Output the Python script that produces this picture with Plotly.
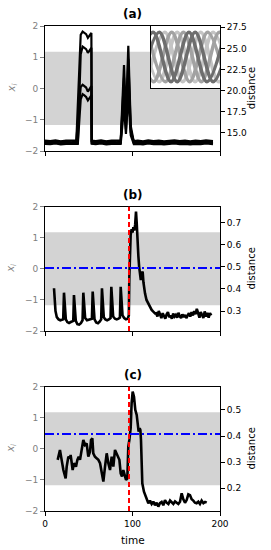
import plotly.graph_objects as go

# ---------------- data ----------------
time_ticks = [0, 100, 200]
band_time = [0, 200]
band_low = [-1.17, -1.17]
band_high = [1.18, 1.18]

# panel (a): four oscillator traces x_i
a_time = [0, 6, 12, 18, 24, 30, 35.8, 37.5, 40.8, 43, 45, 47, 49, 51, 53, 53.4,
          58, 64, 70, 76, 82, 86.5, 90.3, 92.5, 95.2, 98, 101.5,
          106, 112, 118, 124, 130, 136, 142, 148, 154, 160, 166, 172, 178, 184, 192]
a_x1 = [-1.70, -1.72, -1.69, -1.71, -1.70, -1.72, -1.70, -0.54, 1.72, 1.82, 1.78, 1.74, 1.62, 1.70, 1.78, -1.70,
        -1.72, -1.69, -1.71, -1.70, -1.72, -1.70, 0.75, -1.00, 1.37, -1.20, -1.71,
        -1.70, -1.72, -1.69, -1.71, -1.70, -1.72, -1.70, -1.69, -1.71, -1.70, -1.72, -1.70, -1.71, -1.69, -1.71]
a_x2 = [-1.74, -1.75, -1.73, -1.76, -1.74, -1.75, -1.74, -1.74, 1.10, 1.34, 1.30, 1.26, 1.14, 1.24, 1.30, -1.74,
        -1.75, -1.73, -1.76, -1.74, -1.75, -1.74, 0.35, -1.10, 0.95, -1.30, -1.75,
        -1.74, -1.76, -1.73, -1.75, -1.74, -1.76, -1.74, -1.73, -1.75, -1.74, -1.76, -1.74, -1.75, -1.73, -1.75]
a_x3 = [-1.67, -1.68, -1.66, -1.69, -1.67, -1.68, -1.67, -1.10, 0.05, 0.12, 0.08, 0.03, -0.10, 0.00, 0.08, -1.67,
        -1.68, -1.66, -1.69, -1.67, -1.68, -1.67, -0.10, -1.30, 0.40, -1.40, -1.68,
        -1.67, -1.69, -1.66, -1.68, -1.67, -1.69, -1.67, -1.66, -1.68, -1.67, -1.69, -1.67, -1.68, -1.66, -1.68]
a_x4 = [-1.77, -1.78, -1.76, -1.79, -1.77, -1.78, -1.77, -1.77, -0.35, -0.18, -0.22, -0.27, -0.38, -0.28, -0.22, -1.77,
        -1.78, -1.76, -1.79, -1.77, -1.78, -1.77, -0.60, -1.45, -0.20, -1.50, -1.78,
        -1.77, -1.79, -1.76, -1.78, -1.77, -1.79, -1.77, -1.76, -1.78, -1.77, -1.79, -1.77, -1.78, -1.76, -1.78]
a_dist_ticks = [15.0, 17.5, 20.0, 22.5, 25.0, 27.5]

# inset of (a): phase portraits (peak/trough positions)
inset_dark1_x = [-0.23, 0.03, 0.29, 0.55, 0.81, 1.07]
inset_dark1_y = [0.1, 0.9, 0.1, 0.9, 0.1, 0.9]
inset_dark2_x = [-0.14, 0.12, 0.38, 0.64, 0.90, 1.16]
inset_dark2_y = [0.1, 0.9, 0.1, 0.9, 0.1, 0.9]
inset_mid1_x = [-0.05, 0.21, 0.47, 0.73, 0.99, 1.25]
inset_mid1_y = [0.9, 0.1, 0.9, 0.1, 0.9, 0.1]
inset_mid2_x = [-0.22, 0.04, 0.30, 0.56, 0.82, 1.08]
inset_mid2_y = [0.9, 0.1, 0.9, 0.1, 0.9, 0.1]
inset_light1_x = [-0.06, 0.20, 0.46, 0.72, 0.98, 1.24]
inset_light1_y = [0.1, 0.9, 0.1, 0.9, 0.1, 0.9]
inset_light2_x = [-0.14, 0.12, 0.38, 0.64, 0.90, 1.16]
inset_light2_y = [0.9, 0.1, 0.9, 0.1, 0.9, 0.1]

# panel (b): distance
b_time = [10.3, 11.0, 12.0, 13.5, 15.5, 17.5, 19.5, 20.8, 21.7, 22.6, 23.8, 25.5, 27.5, 29.5, 31.5, 32.3,
          33.1, 34.0, 35.2, 37, 39, 41, 42.9, 43.8, 44.7, 45.9, 48, 50, 52, 53.6,
          54.5, 55.4, 56.6, 58.5, 60.5, 62.5, 64.2, 65.1, 66.0, 67.2, 69, 71, 73, 74.9,
          75.8, 76.7, 77.9, 80, 82, 84, 85.6, 86.5, 87.4, 88.6, 90.5, 92.5, 94.5, 95.8,
          96.4, 97.1, 97.9, 99.0, 100.0, 101.0, 102.0, 103.0, 104.0, 104.8, 105.5, 106.7, 107.6,
          108.6, 109.5, 110.5, 111.6, 112.5, 113.5, 114.3, 116, 118.1, 120, 121.9, 123.5, 125.7,
          127, 128.5, 130, 131.5, 133, 134.5, 136, 137.5, 139, 140.5, 142, 143.5, 145, 146.5,
          148, 149.5, 151, 152.5, 154, 155.5, 157, 158.5, 160, 161.5, 163, 164.5, 166, 167.5,
          169, 170.5, 172, 173.5, 175, 176.5, 178, 179.5, 181, 182.5, 184, 185.5, 187, 188.5, 190]
b_dist = [0.403, 0.36, 0.30, 0.272, 0.262, 0.258, 0.262, 0.262, 0.383, 0.30, 0.262, 0.250, 0.246, 0.250, 0.252, 0.255,
          0.372, 0.29, 0.255, 0.240, 0.238, 0.245, 0.258, 0.383, 0.30, 0.268, 0.258, 0.260, 0.262, 0.265,
          0.388, 0.30, 0.262, 0.248, 0.245, 0.252, 0.262, 0.403, 0.31, 0.272, 0.262, 0.258, 0.262, 0.268,
          0.410, 0.32, 0.275, 0.265, 0.262, 0.265, 0.27, 0.410, 0.33, 0.28, 0.268, 0.262, 0.265, 0.28,
          0.455, 0.60, 0.644, 0.670, 0.655, 0.680, 0.665, 0.690, 0.750, 0.700, 0.62, 0.55, 0.50,
          0.455, 0.44, 0.47, 0.478, 0.43, 0.39, 0.38, 0.35, 0.335, 0.315, 0.305, 0.298, 0.289,
          0.29, 0.275, 0.30, 0.28, 0.268, 0.29, 0.278, 0.265, 0.285, 0.295, 0.272, 0.28, 0.265, 0.288,
          0.275, 0.282, 0.27, 0.292, 0.276, 0.268, 0.285, 0.272, 0.282, 0.268, 0.28, 0.29, 0.275, 0.295,
          0.28, 0.30, 0.285, 0.31, 0.29, 0.27, 0.295, 0.28, 0.268, 0.298, 0.275, 0.292, 0.27, 0.29, 0.28]
b_dist_ticks = [0.3, 0.4, 0.5, 0.6, 0.7]
b_threshold = 0.495

# panel (c): distance
c_time = [14.5, 17.1, 19.0, 21.0, 23.6, 24.8, 26.7, 28.6, 29.3, 31.6, 33.1, 35.4, 37.0, 38.5, 40.0, 41.5,
          43.8, 45.7, 47.6, 49.5, 51.4, 52.6, 54.1, 55.2, 57.1, 59.0, 61.0, 62.9, 64.8, 66.7, 68.6,
          70.5, 72.4, 74.3, 76.2, 78.1, 80.0, 81.9, 83.8, 85.0, 86.5, 88.0, 89.5, 91.4, 92.6, 94.1,
          95.2, 96.4, 97.9, 99.0, 100.2, 101.7, 103.2, 104.8, 105.9, 107.0, 108.2, 109.0, 109.7,
          110.5, 111.2, 113.1, 116.2, 118.1, 120, 121.9, 123.8, 125.7, 127.6, 129.5, 131.4, 133.3,
          135.2, 137.1, 139.0, 141.0, 142.9, 144.8, 146.7, 148.6, 150.5, 152.4, 154.3, 156.2, 158.1,
          160.0, 161.9, 163.8, 165.7, 167.6, 169.5, 171.4, 173.3, 175.2, 177.1, 179.0, 181.0, 182.9, 184.8]
c_dist = [0.309, 0.347, 0.309, 0.270, 0.238, 0.283, 0.321, 0.315, 0.328, 0.270, 0.296, 0.283, 0.309, 0.321, 0.309, 0.347,
          0.385, 0.366, 0.372, 0.321, 0.340, 0.385, 0.391, 0.334, 0.321, 0.315, 0.309, 0.296, 0.257, 0.226, 0.283,
          0.334, 0.296, 0.270, 0.321, 0.283, 0.347, 0.334, 0.321, 0.309, 0.257, 0.245, 0.270, 0.251, 0.232, 0.238,
          0.360, 0.385, 0.430, 0.526, 0.570, 0.551, 0.500, 0.481, 0.436, 0.417, 0.430, 0.423, 0.385,
          0.309, 0.219, 0.187, 0.162, 0.143, 0.153, 0.140, 0.149, 0.135, 0.145, 0.130, 0.143, 0.148,
          0.135, 0.155, 0.145, 0.140, 0.153, 0.145, 0.140, 0.150, 0.145, 0.140, 0.149, 0.181, 0.158,
          0.145, 0.155, 0.177, 0.174, 0.158, 0.153, 0.145, 0.143, 0.149, 0.140, 0.153, 0.143, 0.148, 0.145]
c_dist_ticks = [0.2, 0.3, 0.4, 0.5]
c_threshold = 0.408

event_time = 96
xi_ticks = [-2, -1, 0, 1, 2]

# ---------------- figure ----------------
W, H = 271, 550
ML, MR, MT, MB = 45, 51, 26, 39
PH = H - MT - MB
PW = W - ML - MR


def ydom(top_px, bot_px):
    return [(H - MB - bot_px) / PH, (H - MB - top_px) / PH]


def px_x(px):
    return (px - ML) / PW


def px_y(py):
    return (H - MB - py) / PH


dom_a = ydom(26, 151)
dom_b = ydom(206.7, 331)
dom_c = ydom(386.7, 511)
dom_inset_y = ydom(26, 88)
dom_inset_x = [px_x(151), 1.0]

FONT = "DejaVu Sans"
GRAY = "#808080"

fig = go.Figure()

band_x = band_time + band_time[::-1]
band_y = band_low + band_high[::-1]
for xa, ya in [("x", "y"), ("x2", "y3"), ("x3", "y5")]:
    fig.add_trace(go.Scatter(x=band_x, y=band_y, fill="toself", fillcolor="#d3d3d3",
                             line=dict(width=0), mode="lines", xaxis=xa, yaxis=ya,
                             hoverinfo="skip", showlegend=False))

for vals in [a_x4, a_x3, a_x2, a_x1]:
    fig.add_trace(go.Scatter(x=a_time, y=vals, mode="lines", line=dict(color="black", width=2.2),
                             xaxis="x", yaxis="y", showlegend=False))
# right axis of (a)
fig.add_trace(go.Scatter(x=[], y=[], xaxis="x", yaxis="y2", showlegend=False))

fig.add_trace(go.Scatter(x=b_time, y=b_dist, mode="lines", line=dict(color="black", width=2.6),
                         xaxis="x2", yaxis="y4", showlegend=False))
fig.add_trace(go.Scatter(x=c_time, y=c_dist, mode="lines", line=dict(color="black", width=2.6),
                         xaxis="x3", yaxis="y6", showlegend=False))

inset_curves = [
    (inset_light1_x, inset_light1_y, "#c4c4c4"),
    (inset_light2_x, inset_light2_y, "#c4c4c4"),
    (inset_mid1_x, inset_mid1_y, "#a2a2a2"),
    (inset_mid2_x, inset_mid2_y, "#a2a2a2"),
    (inset_dark1_x, inset_dark1_y, "#6e6e6e"),
    (inset_dark2_x, inset_dark2_y, "#6e6e6e"),
]
for xs, ys, col in inset_curves:
    fig.add_trace(go.Scatter(x=xs, y=ys, mode="lines", line=dict(color=col, width=3.5, shape="spline"),
                             xaxis="x4", yaxis="y7", showlegend=False))


def xaxis(anchor, labels):
    return dict(domain=[0, 1], range=[0, 200], anchor=anchor, tickvals=time_ticks,
                showticklabels=labels, ticks="outside", ticklen=4, tickcolor="black",
                showline=True, mirror=True, linecolor="black", linewidth=1,
                showgrid=False, zeroline=False, tickfont=dict(size=9, color="black", family=FONT))


def yleft(dom, anchor):
    return dict(domain=dom, range=[-2, 2], anchor=anchor, tickvals=xi_ticks,
                ticks="outside", ticklen=4, tickcolor=GRAY, showline=True, mirror=True,
                linecolor="black", linewidth=1, showgrid=False, zeroline=False,
                tickfont=dict(size=9, color=GRAY, family=FONT))


def yright(over, anchor, rng, tv, fmt):
    return dict(overlaying=over, side="right", anchor=anchor, range=rng, tickvals=tv,
                tickformat=fmt, ticks="outside", ticklen=4, tickcolor="black",
                showline=False, showgrid=False, zeroline=False,
                tickfont=dict(size=9, color="black", family=FONT))


fig.update_layout(
    width=W, height=H, margin=dict(l=ML, r=MR, t=MT, b=MB),
    paper_bgcolor="white", plot_bgcolor="white", showlegend=False,
    font=dict(family=FONT),
    xaxis=xaxis("y", False),
    yaxis=yleft(dom_a, "x"),
    yaxis2=yright("y", "x", [12.78, 27.66], a_dist_ticks, ".1f"),
    xaxis2=xaxis("y3", False),
    yaxis3=yleft(dom_b, "x2"),
    yaxis4=yright("y3", "x2", [0.2094, 0.7725], b_dist_ticks, ".1f"),
    xaxis3=xaxis("y5", True),
    yaxis5=yleft(dom_c, "x3"),
    yaxis6=yright("y5", "x3", [0.1132, 0.589], c_dist_ticks, ".1f"),
    xaxis4=dict(domain=dom_inset_x, range=[0, 1], anchor="y7", showticklabels=False, ticks="",
                showline=True, mirror=True, linecolor="black", linewidth=1, showgrid=False, zeroline=False),
    yaxis7=dict(domain=dom_inset_y, range=[0, 1], anchor="x4", showticklabels=False, ticks="",
                showline=True, mirror=True, linecolor="black", linewidth=1, showgrid=False, zeroline=False),
)

shapes = []
for xa, ya in [("x2", "y3 domain"), ("x3", "y5 domain")]:
    shapes.append(dict(type="line", xref=xa, yref=ya, x0=event_time, x1=event_time, y0=0, y1=1,
                       line=dict(color="red", width=2, dash="5px,3px"), layer="above"))
for xa, ya, th in [("x2 domain", "y4", b_threshold), ("x3 domain", "y6", c_threshold)]:
    shapes.append(dict(type="line", xref=xa, yref=ya, x0=0, x1=1, y0=th, y1=th,
                       line=dict(color="blue", width=2, dash="9px,3px,2px,3px"), layer="above"))
fig.update_layout(shapes=shapes)

ann = []
for label, cy in [("(a)", 14.3), ("(b)", 195), ("(c)", 375)]:
    ann.append(dict(text="<b>%s</b>" % label, x=px_x(132.5), y=px_y(cy), xref="paper", yref="paper",
                    showarrow=False, xanchor="center", yanchor="middle",
                    font=dict(size=12, color="black", family=FONT)))
for top, bot in [(26, 151), (206.7, 331), (386.7, 511)]:
    cy = (top + bot) / 2
    ann.append(dict(text="<i>x<sub>i</sub></i>", x=px_x(12), y=px_y(cy), xref="paper", yref="paper",
                    showarrow=False, xanchor="center", yanchor="middle", textangle=-90,
                    font=dict(size=10, color=GRAY, family=FONT)))
    ann.append(dict(text="distance", x=px_x(251.7), y=px_y(cy), xref="paper", yref="paper",
                    showarrow=False, xanchor="center", yanchor="middle", textangle=-90,
                    font=dict(size=10, color="black", family=FONT)))
ann.append(dict(text="time", x=px_x(132.5), y=px_y(540), xref="paper", yref="paper",
                showarrow=False, xanchor="center", yanchor="middle",
                font=dict(size=10.5, color="black", family=FONT)))
fig.update_layout(annotations=ann)

fig.write_html("out.html", config={"displayModeBar": False},
               post_script="document.body.style.margin='0px';")
